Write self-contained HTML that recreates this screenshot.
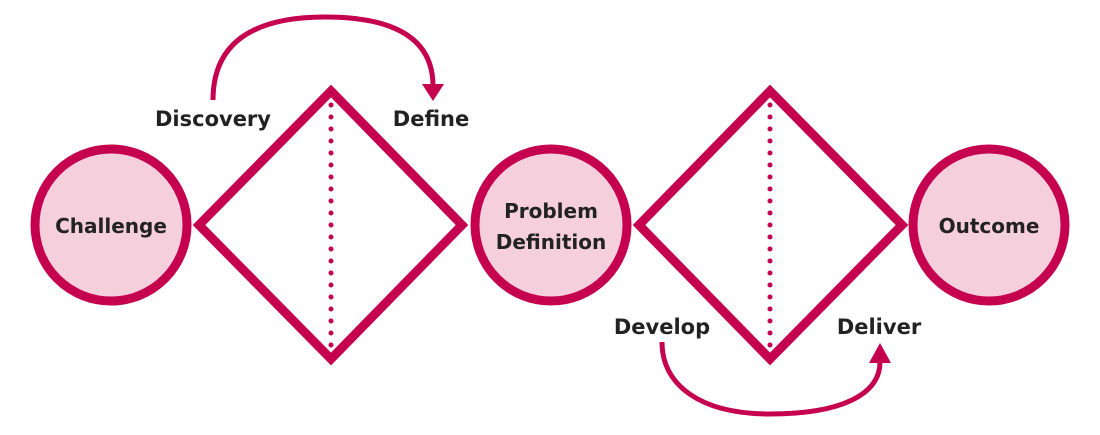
<!DOCTYPE html>
<html><head><meta charset="utf-8"><style>
html,body{margin:0;padding:0;background:#fff;}
svg{display:block;}
text{font-family:"DejaVu Sans","Liberation Sans",sans-serif;font-weight:bold;fill:#222;}
</style></head><body>
<svg width="1100" height="435" viewBox="0 0 1100 435">
<g stroke="#c4004f" stroke-width="9" fill="#f5cfdc">
<circle cx="111" cy="225" r="76"/>
<circle cx="551" cy="225" r="76"/>
<circle cx="989" cy="225" r="76"/>
</g>
<g stroke="#c4004f" stroke-width="9" fill="none" stroke-linejoin="miter">
<polygon points="199,225 331,91 462,225 331,359"/>
<polygon points="639,225 770,91 902,225 770,359"/>
</g>
<g stroke="#c4004f" stroke-width="5" stroke-linecap="round" stroke-dasharray="0 12">
<line x1="331" y1="105" x2="331" y2="347"/>
<line x1="770" y1="105" x2="770" y2="347"/>
</g>
<g stroke="#c4004f" stroke-width="5" fill="none">
<path d="M213,100 C213,38 260,17 325,17 C400,17 433,42 433,86"/>
<path d="M662,342 C662,385 700,414 770,414 C840,414 880,395 880,362"/>
</g>
<polygon points="422,84 444,84 433,101" fill="#c4004f"/>
<polygon points="869,363 891,363 880,343" fill="#c4004f"/>
<g font-size="21" text-anchor="middle">
<text x="213" y="126">Discovery</text>
<text x="431" y="126">Define</text>
<text x="662" y="334">Develop</text>
<text x="879" y="334">Deliver</text>
</g>
<g font-size="20" text-anchor="middle">
<text x="111" y="233">Challenge</text>
<text x="551" y="218">Problem</text>
<text x="551" y="249">Definition</text>
<text x="989" y="233">Outcome</text>
</g>
</svg>
</body></html>
